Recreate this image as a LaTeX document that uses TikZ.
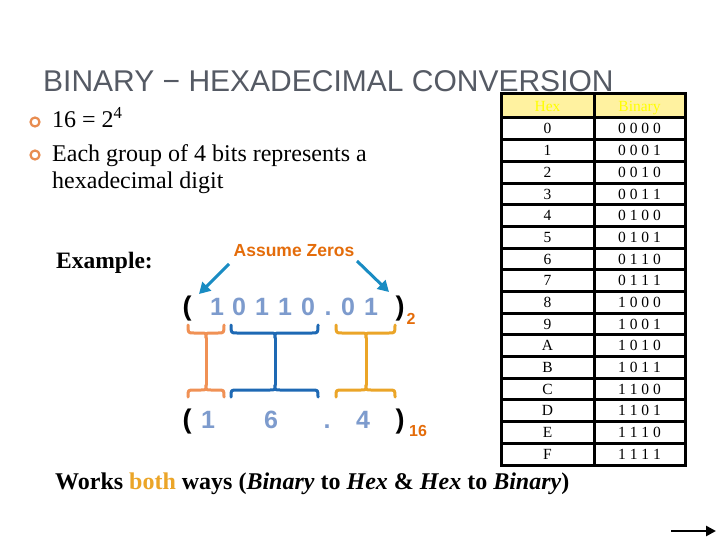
\documentclass[tikz,border=0pt]{standalone}
\usepackage{fontspec}
\setmainfont{Liberation Serif}
\setsansfont{Liberation Sans}
\usetikzlibrary{arrows.meta}
\definecolor{titlegray}{RGB}{85,90,100}
\definecolor{bulletor}{RGB}{232,140,80}
\definecolor{labelor}{RGB}{228,108,10}
\definecolor{arrowblue}{RGB}{25,140,195}
\definecolor{digitblue}{RGB}{125,155,205}
\definecolor{braceor}{RGB}{240,145,85}
\definecolor{braceblue}{RGB}{30,105,180}
\definecolor{braceamber}{RGB}{235,165,40}
\definecolor{headbg}{RGB}{255,242,160}
\definecolor{headtxt}{RGB}{255,255,0}
\tikzset{
  txt/.style={inner sep=0pt, anchor=base west},
  body/.style={txt, font=\fontsize{24}{24}\selectfont},
  bul/.style={circle, draw=bulletor, line width=2.2pt, minimum size=9pt, inner sep=0pt},
  dig/.style={inner sep=0pt, anchor=base, text=digitblue, font=\sffamily\bfseries\fontsize{25}{25}\selectfont},
  par/.style={inner sep=0pt, anchor=base, font=\sffamily\bfseries\fontsize{27}{27}\selectfont},
  sub/.style={inner sep=0pt, anchor=base, text=labelor, font=\sffamily\bfseries\fontsize{16}{16}\selectfont},
  bracestyle/.style={line width=3pt, line cap=round, line join=round},
  zarrow/.style={draw=arrowblue, line width=3pt, -{Triangle[length=11pt,width=12pt]}},
  cell/.style={inner sep=0pt, anchor=base, font=\fontsize{15.5}{15.5}\selectfont},
  grid/.style={line width=3pt}
}
\begin{document}
\begin{tikzpicture}[x=1pt,y=-1pt]
\useasboundingbox[fill=white] (0,0) rectangle (720,540);

% title
\node[txt, text=titlegray, font=\sffamily\fontsize{30}{30}\selectfont] (title) at (43,92) {BINARY − HEXADECIMAL CONVERSION};

% bullets
\node[bul] (b1) at (35,122) {};
\node[bul] (b2) at (35,155) {};
\node[body] (t1) at (52,128) {16 = 2\textsuperscript{4}};
\node[body] (t2) at (52,162) {Each group of 4 bits represents a};
\node[body] (t3) at (52,189) {hexadecimal digit};

\node[body, font=\bfseries\fontsize{23.5}{23.5}\selectfont] (ex) at (56,268) {Example:};

% assume zeros
\node[inner sep=0pt, text=labelor, font=\sffamily\bfseries\fontsize{17.5}{17.5}\selectfont] (az) at (294,251) {Assume Zeros};
\coordinate (azl) at (229,264);
\coordinate (azr) at (357,261);
\coordinate (zl) at (199,294);
\coordinate (zr) at (389,292);
\draw[zarrow] (azl) -- (zl);
\draw[zarrow] (azr) -- (zr);

% binary number
\node[par] (bo) at (187,315) {(};
\node[dig] (d1) at (217,315) {1};
\node[dig] (d2) at (239,315) {0};
\node[dig] (d3) at (262,315) {1};
\node[dig] (d4) at (285,315) {1};
\node[dig] (d5) at (308,315) {0};
\node[dig] (d6) at (328,315) {.};
\node[dig] (d7) at (348,315) {0};
\node[dig] (d8) at (371,315) {1};
\node[par] (bc) at (400,315) {)};
\node[sub] (s2) at (411,324) {2};

% hex number
\node[par] (ho) at (187,428) {(};
\node[dig] (h1) at (208,428) {1};
\node[dig] (h2) at (271,428) {6};
\node[dig] (h3) at (327,428) {.};
\node[dig] (h4) at (363,428) {4};
\node[par] (hc) at (400,428) {)};
\node[sub] (s16) at (418,436) {16};

% braces (I-beam shapes)
\foreach \xa/\xc/\xb/\col in {188/206/224/braceor, 231/275/318/braceblue, 336/366/395/braceamber}{
  \draw[bracestyle, draw=\col]
    (\xa,325) .. controls (\xa,333) .. (\xa+6,333) -- (\xc-5,333)
    .. controls (\xc,333) .. (\xc,338)
    .. controls (\xc,333) .. (\xc+5,333) -- (\xb-6,333)
    .. controls (\xb,333) .. (\xb,325);
  \draw[bracestyle, draw=\col] (\xc,338) -- (\xc,385);
  \draw[bracestyle, draw=\col]
    (\xa,397) .. controls (\xa,390) .. (\xa+6,390) -- (\xc-5,390)
    .. controls (\xc,390) .. (\xc,385)
    .. controls (\xc,390) .. (\xc+5,390) -- (\xb-6,390)
    .. controls (\xb,390) .. (\xb,397);
}

% table
\fill[headbg] (501,94) rectangle (685,118);
\node[cell, text=headtxt] (hh) at (547.5,112) {Hex};
\node[cell, text=headtxt] (hb) at (639.5,112) {Binary};
\foreach \h/\b [count=\i from 0] in {0/0 0 0 0,1/0 0 0 1,2/0 0 1 0,3/0 0 1 1,4/0 1 0 0,5/0 1 0 1,6/0 1 1 0,7/0 1 1 1,8/1 0 0 0,9/1 0 0 1,A/1 0 1 0,B/1 0 1 1,C/1 1 0 0,D/1 1 0 1,E/1 1 1 0,F/1 1 1 1}{
  \pgfmathsetmacro{\yb}{118+21.6875*\i+16}
  \node[cell] (hx\i) at (547.5,\yb) {\h};
  \node[cell] (bn\i) at (639.5,\yb) {\b};
  \draw[grid] (501,{118+21.6875*\i}) -- (685,{118+21.6875*\i});
}
\draw[grid] (501,94) rectangle (685,465);
\draw[grid] (594,94) -- (594,465);

% bottom line
\node[body, font=\bfseries\fontsize{24}{24}\selectfont] (works) at (55,489) {Works \textcolor{braceamber}{both} ways (\textit{Binary} to \textit{Hex} \& \textit{Hex} to \textit{Binary})};

% bottom arrow
\coordinate (ba) at (671,531);
\coordinate (bb) at (716,531);
\draw[line width=2.6pt, -{Triangle[length=10pt,width=10pt]}] (ba) -- (bb);
\end{tikzpicture}
\end{document}
